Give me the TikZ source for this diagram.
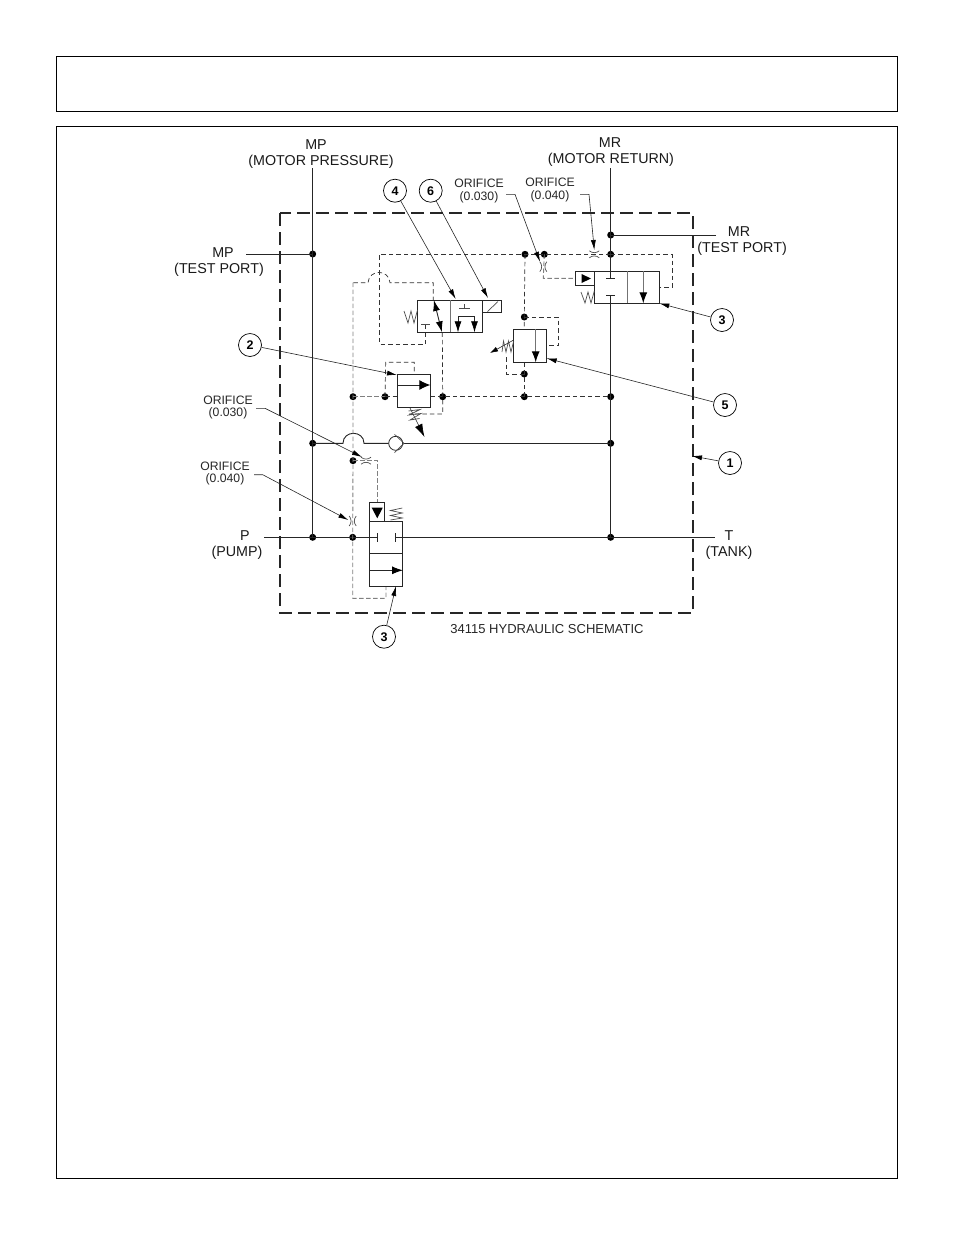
\documentclass[tikz,border=0pt]{standalone}
\usepackage{fontspec}
\setmainfont{Liberation Sans}
\usetikzlibrary{arrows.meta}
\tikzset{
  x=1pt,y=-1pt,
  frame/.style={draw=black,line width=0.9pt},
  boundary/.style={draw=black!85,line width=1.5pt,dash pattern=on 13pt off 6pt},
  solid line/.style={draw=black!85,line width=0.9pt},
  pilot/.style={draw=black!80,line width=0.7pt,dash pattern=on 4.5pt off 3pt},
  pilotg/.style={draw=black!50,line width=0.9pt,dash pattern=on 4.5pt off 2.5pt},
  cell/.style={draw=black!85,line width=0.9pt},
  cellg/.style={draw=black!55,line width=1pt},
  thin part/.style={draw=black!70,line width=0.7pt},
  junction/.style={circle,fill=black,inner sep=0pt,minimum size=7pt},
  leader/.style={draw=black!85,line width=0.6pt,-{Latex[length=10pt,width=5pt,color=black]}},
  callout/.style={circle,draw=black,line width=0.7pt,minimum size=23pt,inner sep=0pt,font=\fontsize{12.5}{12.5}\selectfont\bfseries},
  big/.style={font=\fontsize{14.3}{14.3}\selectfont,text=black!90,inner sep=0pt,anchor=center},
  small/.style={font=\fontsize{12.2}{12.2}\selectfont,text=black!85,inner sep=0pt,anchor=center},
  head/.style={-{Latex[length=11pt,width=8pt,color=black]}},
}
\newcommand{\orifH}[2]{\draw[thin part] (#1-5,#2-3.5) .. controls (#1-2,#2-1) and (#1+2,#2-1) .. (#1+5,#2-3.5);
  \draw[thin part] (#1-5,#2+3.5) .. controls (#1-2,#2+1) and (#1+2,#2+1) .. (#1+5,#2+3.5);}
\newcommand{\orifV}[2]{\draw[thin part] (#1-3.5,#2-5) .. controls (#1-1,#2-2) and (#1-1,#2+2) .. (#1-3.5,#2+5);
  \draw[thin part] (#1+3.5,#2-5) .. controls (#1+1,#2-2) and (#1+1,#2+2) .. (#1+3.5,#2+5);}
\begin{document}
\begin{tikzpicture}
\useasboundingbox (0,0) rectangle (954,1235);
% page frames
\node[frame,minimum width=841pt,minimum height=55pt,inner sep=0pt] (topframe) at (477,84) {};
\node[frame,minimum width=841pt,minimum height=1052pt,inner sep=0pt] (mainframe) at (477,652.5) {};
% manifold boundary
\draw[boundary] (280,213) rectangle (693,613);

% junctions
\node[junction] (mpT) at (312.7,254) {};
\node[junction] (mpC) at (312.7,443.3) {};
\node[junction] (mpP) at (312.7,537.3) {};
\node[junction] (pP) at (352.7,537.3) {};
\node[junction] (pO) at (353,460.7) {};
\node[junction] (lL) at (353,396.7) {};
\node[junction] (lA) at (385,396.7) {};
\node[junction] (lB) at (442.7,396.7) {};
\node[junction] (lC) at (524.3,396.7) {};
\node[junction] (lD) at (610.7,396.7) {};
\node[junction] (rC) at (524.3,374) {};
\node[junction] (rT) at (524.3,317) {};
\node[junction] (uA) at (525,254.3) {};
\node[junction] (uB) at (544.3,254.3) {};
\node[junction] (uC) at (610.7,254.3) {};
\node[junction] (uM) at (610.7,235) {};
\node[junction] (rR) at (610.7,443.3) {};
\node[junction] (rP) at (610.7,537.3) {};

% free ends
\coordinate (mpTop) at (312.7,168);
\coordinate (mrTop) at (610.7,168);
\coordinate (mpLeft) at (246,254);
\coordinate (mrRight) at (716,235);
\coordinate (pLeft) at (264,537.3);
\coordinate (tRight) at (715,537.3);

% solid lines
\draw[solid line] (mpTop) -- (mpT.center) -- (mpC.center) -- (mpP.center);
\draw[solid line] (mpLeft) -- (mpT.center);
\draw[solid line] (mrRight) -- (uM.center);
\draw[solid line] (mrTop) -- (uM.center) -- (uC.center) -- (610.7,278.7);
\draw[solid line] (606,278.7) -- (615.4,278.7);
\draw[solid line] (606,295.7) -- (615.4,295.7);
\draw[solid line] (610.7,295.7) -- (lD.center) -- (rR.center) -- (rP.center);
\draw[solid line] (pLeft) -- (mpP.center) -- (pP.center) -- (377.3,537.3);
\draw[solid line] (377.3,533.3) -- (377.3,541.7);
\draw[solid line] (395,533.3) -- (395,541.7);
\draw[solid line] (395,537.3) -- (rP.center) -- (tRight);
\draw[solid line] (mpC.center) -- (343,443.3) .. controls (343,430) and (364,430) .. (364,443.3) -- (388.7,443.3);
\draw[solid line] (404,443.3) -- (rR.center);
% check valve
\node[circle,draw=black!85,line width=0.8pt,minimum size=14pt,inner sep=0pt] (check) at (395.7,443.3) {};
\coordinate (seatA) at (394.5,434.3);
\coordinate (seatB) at (404,443.3);
\coordinate (seatC) at (394.5,452.5);
\draw[thin part] (seatA) -- (seatB) -- (seatC);

% pilot lines
\draw[pilot] (uC.center) -- (uB.center) -- (uA.center) -- (379.3,254.3) -- (379.3,344) -- (425.7,344) -- (425.7,324);
\draw[thin part] (421,324) -- (430.3,324);
\draw[pilot] (uA.center) -- (rT.center) -- (524.3,329.3);
\draw[pilot] (rT.center) -- (558.3,317) -- (558.3,345.7) -- (546.7,345.7);
\draw[pilot] (506.7,357) -- (506.7,374) -- (rC.center);
\draw[pilot] (524.3,362.3) -- (rC.center) -- (lC.center);
\draw[pilot] (uC.center) -- (672,254.3) -- (672,287.3) -- (659.3,287.3);
\draw[pilotg] (uB.center) -- (543.3,278.3) -- (575.7,278.3);
\draw[pilotg] (lL.center) -- (lA.center);
\draw[pilot] (lA.center) -- (397.3,396.7);
\draw[pilot] (430.3,396.7) -- (lB.center) -- (lC.center) -- (lD.center);
\draw[pilot] (442.3,332.3) -- (lB.center) -- (442.7,414) -- (409,414);
\draw[pilot] (lA.center) -- (385.7,362.3) -- (414.3,362.3) -- (414.3,374.3);
\draw[pilotg] (353,282.7) -- (lL.center) -- (pO.center) -- (pP.center) -- (352.7,598.3) -- (386,598.3) -- (386,586);
\draw[pilot] (353.3,282.7) -- (368,282.7) .. controls (369,269) and (389,269) .. (390,282.7) -- (433.3,282.7) -- (433.3,300);
\draw[pilotg] (pO.center) -- (377.3,460.7) -- (377.3,502.3);

% valve 4/6
\node[cell,minimum width=65pt,minimum height=32.3pt,inner sep=0pt] (v4) at (450.2,316.2) {};
\draw[cellg] (450,300) -- (450,332.3);
\node[cell,minimum width=19pt,minimum height=12.7pt,inner sep=0pt] (sol) at (492.2,306.4) {};
\coordinate (solA) at (487.5,311.5);
\coordinate (solB) at (498,301.5);
\draw[thin part] (solA) -- (solB);
\draw[cell,{Latex[length=11pt,width=7pt,color=black]}-{Latex[length=11pt,width=7pt,color=black]}] (433.8,300) -- (442,332.3);
\draw[thin part] (459,308.5) -- (470,308.5);
\draw[thin part] (464.5,308.5) -- (464.5,303.5);
\draw[cell,line width=0.7pt,-{Latex[length=11pt,width=7pt,color=black]}] (458,316.3) -- (474.5,316.3) -- (474.5,332.3);
\draw[cell,line width=0.7pt,-{Latex[length=11pt,width=7pt,color=black]}] (458,316.3) -- (458,332.3);
\draw[thin part] (417.5,310) -- (414,323) -- (411,311) -- (408,323) -- (404,311);

% valve 5
\node[cell,minimum width=33pt,minimum height=33pt,inner sep=0pt] (v5) at (530.2,345.8) {};
\draw[cellg,head] (535.7,329.3) -- (535.7,362.3);
\coordinate (s5a) at (513.7,340);
\coordinate (s5b) at (490,353);
\draw[leader,-{Latex[length=8pt,width=5pt,color=black]}] (s5a) -- (s5b);
\draw[thin part] (513.7,341) -- (511,352) -- (508.5,341) -- (506,352) -- (503.5,341) -- (502,352);

% valve 2
\node[cell,minimum width=33pt,minimum height=33pt,inner sep=0pt] (v2) at (413.8,390.8) {};
\draw[cell,-{Latex[length=11pt,width=10pt,color=black]}] (397.3,385) -- (430.3,385);
\coordinate (s2a) at (410,408);
\coordinate (s2b) at (424.5,437);
\draw[leader,-{Latex[length=13pt,width=8pt,color=black]}] (s2a) -- (s2b);
\draw[thin part] (408.5,411) -- (420,409.5) -- (409,415) -- (421,413.5) -- (410,420) -- (419.5,418.5);

% upper valve 3
\node[cell,minimum width=65pt,minimum height=32.3pt,inner sep=0pt] (v3u) at (626.8,287.2) {};
\draw[cellg] (627,271) -- (627,303.3);
\draw[cell] (594.3,271) -- (575.7,271) -- (575.7,285.3) -- (594.3,285.3);
\fill[black] (581.5,274) -- (581.5,283) -- (591,278.5) -- cycle;
\draw[cellg,head] (643.3,271) -- (643.3,303.3);
\draw[thin part] (594.3,291) -- (591,303) -- (588,292) -- (585,303) -- (581,292);

% lower valve 3
\node[cell,minimum width=32.6pt,minimum height=65pt,inner sep=0pt] (v3l) at (386,553.5) {};
\draw[cell] (369.7,521) -- (369.7,502.3) -- (384.3,502.3) -- (384.3,521);
\draw[cell] (369.7,553.3) -- (402.3,553.3);
\fill[black] (371.7,507.7) -- (382.7,507.7) -- (377.3,518.3) -- cycle;
\draw[cell,head] (369.7,570.3) -- (403,570.3);
\draw[thin part] (402.3,508) -- (390.5,510.5) -- (402.3,513) -- (390.5,515.5) -- (402.3,518) -- (390.5,520);

% orifices
\orifH{594.3}{254.3}
\orifV{543.3}{266.7}
\orifH{366}{460.7}
\orifV{352.7}{521}

% callouts
\node[callout] (c4) at (395,190.7) {4};
\node[callout] (c6) at (430.7,190.7) {6};
\node[callout] (c3u) at (722,320) {3};
\node[callout] (c5) at (725,405) {5};
\node[callout] (c1) at (730,463) {1};
\node[callout] (c2) at (250,345) {2};
\node[callout] (c3l) at (384,636.7) {3};
\coordinate (t4) at (455.7,299);
\coordinate (t6) at (488,298);
\coordinate (t3u) at (659.3,303.3);
\coordinate (t5) at (546.7,358.3);
\coordinate (t1) at (692,456);
\coordinate (t2) at (397,375);
\coordinate (t3l) at (396,586);
\draw[leader] (c4) -- (t4);
\draw[leader] (c6) -- (t6);
\draw[leader] (c3u) -- (t3u);
\draw[leader] (c5) -- (t5);
\draw[leader] (c1) -- (t1);
\draw[leader] (c2) -- (t2);
\draw[leader] (c3l) -- (t3l);

% orifice labels and leaders
\node[small] (oa) at (479,183) {ORIFICE};
\node[small] (oav) at (479,197) {(0.030)};
\node[small] (ob) at (550,182) {ORIFICE};
\node[small] (obv) at (550,196) {(0.040)};
\node[small] (oc) at (228,400) {ORIFICE};
\node[small] (ocv) at (228,413) {(0.030)};
\node[small] (od) at (225,466) {ORIFICE};
\node[small] (odv) at (225,479) {(0.040)};
\coordinate (oa1) at (506,194.3);
\coordinate (oa2) at (515,194.3);
\coordinate (oa3) at (540,261.7);
\coordinate (ob1) at (580,194.3);
\coordinate (ob2) at (589,194.3);
\coordinate (ob3) at (594.3,250);
\coordinate (oc1) at (256,408.3);
\coordinate (oc2) at (265,408.3);
\coordinate (oc3) at (362,457);
\coordinate (od1) at (254,474.7);
\coordinate (od2) at (262.7,474.7);
\coordinate (od3) at (348.3,520);
\draw[leader] (oa1) -- (oa2) -- (oa3);
\draw[leader] (ob1) -- (ob2) -- (ob3);
\draw[leader] (oc1) -- (oc2) -- (oc3);
\draw[leader] (od1) -- (od2) -- (od3);

% labels
\node[big] (l1) at (316,145) {MP};
\node[big] (l2) at (321,162) {(MOTOR PRESSURE)};
\node[big] (l3) at (610,143) {MR};
\node[big] (l4) at (611,160) {(MOTOR RETURN)};
\node[big] (l5) at (223,253) {MP};
\node[big] (l6) at (219,270) {(TEST PORT)};
\node[big] (l7) at (739,232) {MR};
\node[big] (l8) at (742,249) {(TEST PORT)};
\node[big] (l9) at (245,536) {P};
\node[big] (l10) at (237,553) {(PUMP)};
\node[big] (l11) at (729,536) {T};
\node[big] (l12) at (729,553) {(TANK)};
\node[font=\fontsize{13}{13}\selectfont,text=black!85,inner sep=0pt] (cap) at (547,629) {34115 HYDRAULIC SCHEMATIC};
\end{tikzpicture}
\end{document}
